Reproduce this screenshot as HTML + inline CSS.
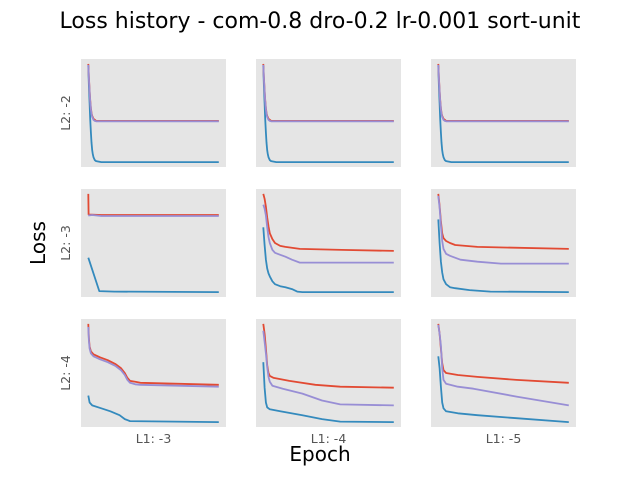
<!DOCTYPE html>
<html><head><meta charset="utf-8"><style>
body{margin:0;background:#fff;}
svg text{font-family:"DejaVu Sans","Liberation Sans",sans-serif;}
</style></head><body>
<svg id="chart" width="640" height="480">
<text x="320" y="28" text-anchor="middle" font-size="22" fill="#000">Loss history - com-0.8 dro-0.2 lr-0.001 sort-unit</text>
<text transform="translate(45,243) rotate(-90)" text-anchor="middle" font-size="20" fill="#000">Loss</text>
<text x="320" y="461" text-anchor="middle" font-size="20" fill="#000">Epoch</text>
</svg>
<script>
const colLabels = ["L1: -3","L1: -4","L1: -5"];
const rowLabels = ["L2: -2","L2: -3","L2: -4"];
// each panel: series of [epoch, normalized loss] points
const r0Red = [[0,1],[0.5,0.86],[1,0.73],[1.5,0.63],[2,0.55],[2.5,0.5],[3,0.47],[4,0.44],[5,0.43],[6,0.42],[10,0.42],[100,0.42]];
const r0Purple = [[0,0.99],[0.5,0.85],[1,0.72],[1.5,0.62],[2,0.54],[2.5,0.49],[3,0.46],[4,0.43],[5,0.42],[6,0.415],[10,0.415],[100,0.415]];
const r0Blue = [[0,0.98],[0.5,0.78],[1,0.6],[1.5,0.44],[2,0.3],[2.5,0.2],[3,0.12],[3.5,0.08],[4,0.05],[5,0.02],[6,0.01],[10,0],[100,0]];
const r1c0Red = [[0,1],[0.3,0.79],[10,0.785],[100,0.785]];
const r1c0Purple = [[0,0.78],[3,0.785],[10,0.775],[100,0.775]];
const r1c0Blue = [[0,0.35],[8.5,0.01],[20,0.005],[100,0]];
const r1c1Red = [[0,1],[1,0.95],[2,0.87],[3,0.76],[4,0.67],[5,0.6],[7,0.54],[9,0.5],[13,0.47],[17,0.46],[28,0.44],[60,0.43],[100,0.42]];
const r1c1Purple = [[0,0.89],[1,0.85],[2,0.78],[3,0.66],[4,0.56],[5,0.5],[7,0.43],[9,0.40],[13,0.38],[17,0.36],[22,0.33],[28,0.30],[60,0.30],[100,0.30]];
const r1c1Blue = [[0,0.66],[1,0.48],[2,0.33],[3,0.24],[4,0.19],[5,0.16],[7,0.11],[9,0.08],[13,0.06],[17,0.05],[22,0.03],[26,0.005],[30,0.0],[100,0]];
const r1c2Red = [[0,1],[1,0.88],[2,0.72],[3,0.6],[4,0.55],[6,0.52],[9,0.5],[13,0.48],[30,0.46],[100,0.44]];
const r1c2Purple = [[0,0.98],[1,0.86],[2,0.68],[3,0.52],[4,0.44],[6,0.39],[9,0.37],[17,0.33],[30,0.31],[48,0.29],[100,0.29]];
const r1c2Blue = [[0,0.74],[1,0.5],[2,0.31],[3,0.2],[4,0.13],[6,0.08],[9,0.05],[13,0.04],[24,0.02],[40,0.005],[100,0]];
const r2c0Red = [[0,1],[0.5,0.85],[1,0.77],[2,0.72],[4,0.69],[9,0.66],[15,0.63],[21,0.59],[25,0.55],[28,0.5],[30,0.45],[32,0.42],[36,0.41],[40,0.40],[100,0.38]];
const r2c0Purple = [[0,0.97],[0.5,0.83],[1,0.75],[2,0.70],[4,0.67],[9,0.64],[15,0.61],[21,0.57],[25,0.53],[28,0.48],[30,0.43],[32,0.40],[36,0.385],[40,0.38],[100,0.36]];
const r2c0Blue = [[0,0.27],[1,0.2],[3,0.17],[10,0.14],[17,0.11],[24,0.07],[28,0.03],[32,0.01],[100,0]];
const r2c1Red = [[0,1],[1,0.9],[2,0.75],[3,0.58],[4,0.5],[5,0.47],[8,0.45],[20,0.42],[40,0.38],[59,0.36],[100,0.35]];
const r2c1Purple = [[0,0.93],[1,0.82],[2,0.7],[3,0.56],[4,0.46],[5,0.41],[7,0.37],[15,0.34],[30,0.29],[45,0.22],[59,0.18],[100,0.17]];
const r2c1Blue = [[0,0.61],[1,0.35],[2,0.2],[3,0.15],[5,0.13],[13,0.11],[30,0.07],[45,0.03],[59,0.005],[100,0]];
const r2c2Red = [[0,1],[1,0.9],[2,0.75],[3,0.6],[4,0.53],[6,0.5],[15,0.48],[30,0.46],[60,0.43],[100,0.40]];
const r2c2Purple = [[0,0.99],[1,0.9],[2,0.78],[3,0.55],[4,0.43],[6,0.39],[15,0.36],[27,0.34],[60,0.26],[100,0.17]];
const r2c2Blue = [[0,0.67],[1,0.55],[2,0.36],[3,0.2],[4,0.14],[6,0.11],[15,0.09],[30,0.07],[60,0.04],[100,0]];
const panelSeries = [
 [[r0Red,r0Purple,r0Blue],[r0Red,r0Purple,r0Blue],[r0Red,r0Purple,r0Blue]],
 [[r1c0Red,r1c0Purple,r1c0Blue],[r1c1Red,r1c1Purple,r1c1Blue],[r1c2Red,r1c2Purple,r1c2Blue]],
 [[r2c0Red,r2c0Purple,r2c0Blue],[r2c1Red,r2c1Purple,r2c1Blue],[r2c2Red,r2c2Purple,r2c2Blue]]
];
const seriesNames = ["red","purple","blue"];
const seriesColors = ["#E24A33","#988ED5","#348ABD"];

const NS="http://www.w3.org/2000/svg";
const svg=document.getElementById('chart');
const colX=[81,256,431], rowY=[59,189,319], PW=145, PH=108;
function mk(t,a){const e=document.createElementNS(NS,t);for(const k in a)e.setAttribute(k,a[k]);svg.appendChild(e);return e;}
for(let r=0;r<3;r++){for(let c=0;c<3;c++){
  const x0=colX[c], y0=rowY[r];
  const bg=mk('rect',{x:x0,y:y0,width:PW,height:PH,fill:'#E5E5E5'});
  
  
  const xs=e=>x0+PW*(0.05+0.9*(e/100));
  const ys=v=>y0+PH*(1-(v+0.05)/1.1);
  [2,0,1].forEach(si=>{
    const pts=panelSeries[r][c][si];
    const d=pts.map((p,i)=>(i?'L':'M')+xs(p[0]).toFixed(1)+','+ys(p[1]).toFixed(1)).join(' ');
    const pl=mk('path',{d:d,fill:'none',stroke:seriesColors[si],'stroke-width':1.8,'stroke-linejoin':'round'});
    
    
  });
}}
for(let c=0;c<3;c++){
  const t=mk('text',{x:colX[c]+PW/2,y:443,'text-anchor':'middle','font-size':12.5,fill:'#555'});
  t.textContent=colLabels[c];
  
  
}
for(let r=0;r<3;r++){
  const t=mk('text',{transform:'translate(70,'+(rowY[r]+PH/2)+') rotate(-90)','text-anchor':'middle','font-size':12.5,fill:'#555'});
  t.textContent=rowLabels[r];
  
  
}
</script>
</body></html>
